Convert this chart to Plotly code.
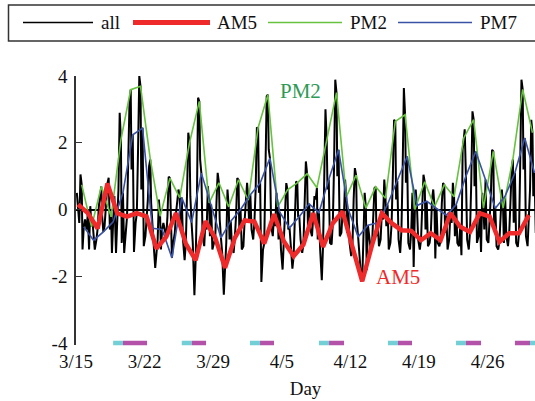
import numpy as np
import pandas as pd
import plotly.graph_objects as go

# ---------------- data ----------------
START = "2020-03-15"
X_END = "2020-04-30 20:10"
N_DAYS = 47

# daily samples: 05:00, 14:00, 19:00
AM5 = [0.15, -0.11, -0.57, 0.78, -0.11, -0.21, -0.11, -0.21, -1.17, -0.82,
       -0.11, -1.02, -1.52, -0.35, -0.85, -1.75, -0.85, -0.33, -0.36, -1.02,
       -0.14, -0.95, -1.40, -1.05, -0.11, -1.12, -0.41, -0.06, -1.12, -2.15,
       -1.07, -0.11, -0.41, -0.62, -0.64, -0.92, -0.71, -0.92, -0.11, -0.52,
       -0.67, -0.11, -0.21, -0.97, -0.71, -0.71, -0.17]
PM2 = [0.74, -0.52, 0.69, -0.22, 2.09, 3.59, 3.69, 1.50, -0.20, 0.94,
       0.35, 2.00, 3.24, 0.20, 0.80, 0.08, 0.89, 0.28, 2.45, 3.44,
       0.08, 0.59, 0.80, 1.07, 0.65, 2.10, 3.50, 0.38, 1.03, 0.04,
       0.68, 0.34, 2.64, 2.84, 0.00, 0.83, 0.08, 0.74, 0.38, 2.15,
       2.69, 0.04, 1.74, 0.04, 1.50, 3.60, 2.30]
PM7 = [-0.52, -0.92, -0.67, -0.37, 0.50, 2.24, 2.44, -0.56, -0.60, -1.45,
       0.36, -0.39, 1.09, 0.15, -0.85, -0.35, 0.00, 0.44, 0.79, 1.54,
       -0.08, -0.55, -0.21, 0.17, -0.10, 0.90, 1.79, 0.00, -0.82, -0.47,
       -0.40, 0.15, 0.85, 1.59, 0.12, 0.25, 0.03, -0.17, 0.14, 1.00,
       1.74, 0.90, 0.04, 0.40, 1.10, 2.14, 1.10]

# other hours of the "all" series
ALL_H02 = [0.50, -0.60, -0.90, 0.10, -1.30, -0.60, -0.40, -0.80, -1.75, -0.60,
           -0.70, -1.52, -2.57, -1.10, -1.00, -2.55, -1.30, -1.10, -0.90, -1.20,
           -0.80, -1.80, -1.77, -1.30, -0.80, -2.12, -1.05, -0.70, -1.40, -2.00,
           -1.20, -0.90, -1.00, -1.30, -1.20, -1.20, -1.00, -1.10, -0.90, -1.10,
           -1.20, -0.80, -1.00, -1.20, -1.10, -1.12, -1.10]
ALL_H08 = [-0.40, -1.20, 0.10, 0.95, 0.60, 1.50, 1.80, 0.30, -0.90, -0.20,
           0.30, 0.50, 0.20, -0.60, 0.20, -1.00, -0.20, 0.20, 0.60, 1.20,
           -0.50, 0.00, -0.50, 0.20, 0.40, 0.80, 1.30, -0.30, 0.30, -1.00,
           0.00, -0.30, 1.00, 1.20, 0.50, 0.10, 0.30, 0.20, -0.40, -1.37,
           0.80, -1.27, 0.40, -0.30, 0.20, 1.40, 0.60]
ALL_H11 = [1.05, 0.10, 0.40, -0.60, 2.90, 3.20, 4.00, 1.30, 0.30, 0.98,
           0.60, 2.30, 3.35, 0.70, 1.10, 0.60, 0.94, 0.80, 2.44, 3.39,
           0.50, 0.79, 0.84, 1.44, 0.30, 3.00, 3.89, 0.90, 1.24, 0.50,
           0.64, 0.90, 2.69, 3.64, -1.72, 1.04, 0.60, 0.79, 0.80, 1.80,
           2.94, 0.50, 1.79, 0.60, 1.20, 3.89, 2.69]
ALL_H16 = [-1.20, -0.30, -0.20, -1.30, -1.00, 1.20, 0.60, 0.20, -1.20, 0.10,
           -0.50, 0.40, 1.50, -0.80, -0.30, -0.90, -0.60, -0.40, 0.50, 1.80,
           -0.90, -0.60, -0.20, -0.50, -0.90, 0.60, 1.00, -0.70, -0.40, -1.82,
           -0.80, -0.50, 0.30, 0.80, 0.60, -0.60, -1.47, -0.70, -0.80, 2.40,
           0.70, -0.60, -0.50, -1.00, -0.40, 1.20, 0.40]
ALL_H22 = [-0.30, -1.20, -0.50, 0.40, -1.30, -1.27, -1.10, -1.00, -0.40, -1.00,
           -0.90, -1.00, -0.80, -1.20, -1.30, -1.10, -1.20, -0.60, -2.17, -0.50,
           -1.20, -1.00, -0.90, -0.60, -1.20, -1.00, -0.80, -1.00, -1.50, -0.80,
           -1.10, -1.20, -0.90, -1.00, -0.90, -1.10, -1.00, -1.20, -1.00, -0.90,
           -1.00, -0.90, -1.10, -0.80, -1.00, -0.80, -0.70]

TICK_DATES = ["2020-03-15", "2020-03-22", "2020-03-29", "2020-04-05",
              "2020-04-12", "2020-04-19", "2020-04-26"]
TICK_LABELS = ["3/15", "3/22", "3/29", "4/5", "4/12", "4/19", "4/26"]
Y_TICKS = [-4, -2, 0, 2, 4]
Y_LABELS = ["-4", "-2", "0", "2", "4"]

# period bars along the time axis
SEG_START = ["2020-03-18 19:00", "2020-03-19 19:00", "2020-03-25 19:00", "2020-03-26 19:30",
             "2020-04-01 18:00", "2020-04-02 18:45", "2020-04-08 19:00", "2020-04-09 19:45",
             "2020-04-15 20:00", "2020-04-16 20:40", "2020-04-22 18:45", "2020-04-23 19:00",
             "2020-04-28 19:00", "2020-04-30 08:00"]
SEG_END = ["2020-03-19 19:00", "2020-03-22 06:00", "2020-03-26 19:30", "2020-03-28 06:30",
           "2020-04-02 18:45", "2020-04-04 05:00", "2020-04-09 19:45", "2020-04-11 08:30",
           "2020-04-16 20:40", "2020-04-18 07:00", "2020-04-23 19:00", "2020-04-25 08:00",
           "2020-04-30 08:00", "2020-05-01 08:00"]
SEG_KIND = ["a", "b", "a", "b", "a", "b", "a", "b", "a", "b", "a", "b", "b", "a"]

# ---------------- styles ----------------
C_ALL = "#000000"
C_AM5 = "#ee2a2a"
C_PM2 = "#66c23f"
C_PM7 = "#3a52a3"
C_PM2_TXT = "#2e9a55"
C_SEG = {"a": "#72cfd6", "b": "#b352a8"}
FONT = "Liberation Serif"

W, H = 535, 401
ML, MR, MT, MB = 76, 0, 76, 48
PW, PH = W - ML - MR, H - MT - MB
BAR_FRAC = 10 / PH          # lift of main y-domain to leave room for the bars


def px_x(px):
    return (px - ML) / PW


def px_y(py):
    return (H - MB - py) / PH


# ---------------- build series ----------------
base = pd.Timestamp(START)
day0 = [base + pd.Timedelta(days=d) for d in range(N_DAYS)]


def at_hour(hour):
    return [d + pd.Timedelta(hours=hour) for d in day0]


hour_cols = [(2, ALL_H02), (5, AM5), (8, ALL_H08), (11, ALL_H11),
             (14, PM2), (16, ALL_H16), (19, PM7), (22, ALL_H22)]
all_x, all_y = [], []
for d in range(N_DAYS):
    for h, arr in hour_cols:
        all_x.append(day0[d] + pd.Timedelta(hours=h))
        all_y.append(arr[d])

fig = go.Figure()
fig.add_trace(go.Scatter(x=all_x, y=all_y, mode="lines", name="all",
                         line=dict(color=C_ALL, width=2)))
fig.add_trace(go.Scatter(x=at_hour(14), y=PM2, mode="lines", name="PM2",
                         line=dict(color=C_PM2, width=1.6)))
fig.add_trace(go.Scatter(x=at_hour(19), y=PM7, mode="lines", name="PM7",
                         line=dict(color=C_PM7, width=1.6)))
fig.add_trace(go.Scatter(x=at_hour(5), y=AM5, mode="lines", name="AM5",
                         line=dict(color=C_AM5, width=4.5)))

for kind, col in C_SEG.items():
    sx, sy = [], []
    for s, e, k in zip(SEG_START, SEG_END, SEG_KIND):
        if k == kind:
            sx += [s, e, None]
            sy += [0, 0, None]
    fig.add_trace(go.Scatter(x=sx, y=sy, mode="lines", xaxis="x", yaxis="y2",
                             line=dict(color=col, width=4.5), hoverinfo="skip"))

# text labels on the lines
fig.add_annotation(x="2020-04-06 23:00", y=3.54, text="PM2", showarrow=False,
                   font=dict(family=FONT, size=21, color=C_PM2_TXT))
fig.add_annotation(x="2020-04-16 20:40", y=-2.02, text="AM5", showarrow=False,
                   font=dict(family=FONT, size=21, color=C_AM5))

# ---------------- legend (drawn in the top margin) ----------------
fig.add_shape(type="rect", xref="paper", yref="paper",
              x0=px_x(8.5), x1=px_x(545), y0=px_y(41), y1=px_y(5),
              line=dict(color="#333333", width=1.5), fillcolor="rgba(0,0,0,0)")
legend_items = [("all", C_ALL, 1.6, 23, 93, 99),
                ("AM5", C_AM5, 5, 133, 210, 215),
                ("PM2", C_PM2, 1.6, 268, 342, 348),
                ("PM7", C_PM7, 1.6, 398, 472, 478)]
for name, col, lw, lx0, lx1, tx in legend_items:
    fig.add_shape(type="line", xref="paper", yref="paper",
                  x0=px_x(lx0), x1=px_x(lx1), y0=px_y(22.5), y1=px_y(22.5),
                  line=dict(color=col, width=lw))
    fig.add_annotation(xref="paper", yref="paper", x=px_x(tx), y=px_y(23),
                       xanchor="left", yanchor="middle", text=name, showarrow=False,
                       font=dict(family=FONT, size=19, color="#111111"))

fig.update_layout(
    width=W, height=H,
    margin=dict(l=ML, r=MR, t=MT, b=MB),
    plot_bgcolor="white", paper_bgcolor="white",
    font=dict(family=FONT, size=19, color="#111111"),
    showlegend=False,
    xaxis=dict(type="date", range=[START, X_END], anchor="y",
               tickmode="array", tickvals=TICK_DATES, ticktext=TICK_LABELS,
               ticks="inside", ticklen=5, tickwidth=1.2, tickcolor="#333333",
               showline=True, linecolor="#333333", linewidth=1.5,
               showgrid=False, zeroline=False,
               title=dict(text="Day", standoff=11, font=dict(family=FONT, size=19))),
    yaxis=dict(domain=[BAR_FRAC, 1], range=[-4, 4],
               tickmode="array", tickvals=Y_TICKS, ticktext=Y_LABELS,
               ticks="inside", ticklen=6, tickwidth=1.2, tickcolor="#333333",
               showline=True, linecolor="#333333", linewidth=1.5,
               showgrid=False, zeroline=True, zerolinecolor="#000000",
               zerolinewidth=1.8, ticklabelstandoff=3),
    yaxis2=dict(domain=[0, 2 * BAR_FRAC], range=[-1, 1], visible=False,
                anchor="x", fixedrange=True),
)

fig.write_html("out.html",
               config={"displayModeBar": False},
               post_script="document.body.style.margin='0';"
                           "document.body.style.overflow='hidden';")
